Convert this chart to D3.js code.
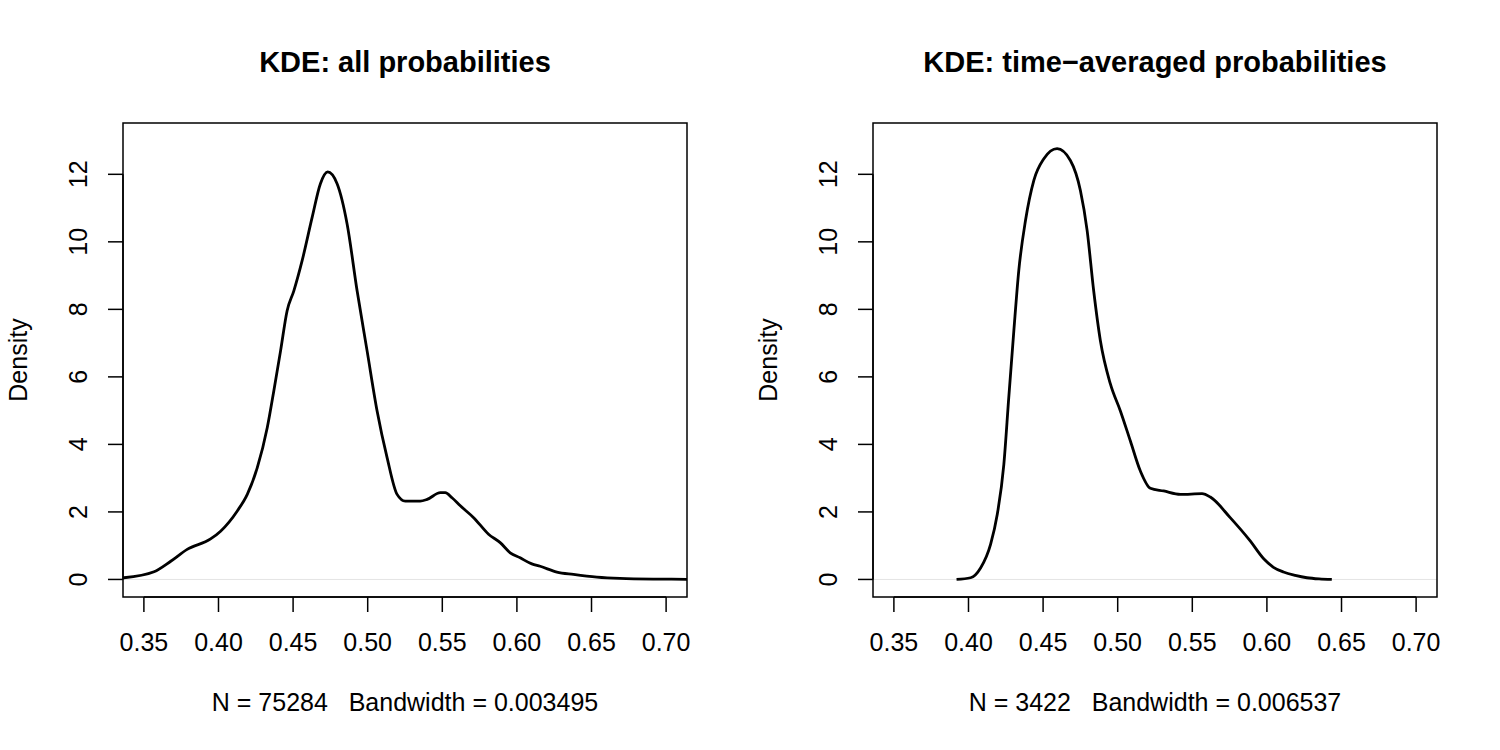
<!DOCTYPE html>
<html>
<head>
<meta charset="utf-8">
<script src="https://cdn.jsdelivr.net/npm/d3@7"></script>
<style>
  body { margin: 0; background: #fff; }
  svg { display: block; font-family: "Liberation Sans", Arial, Helvetica, sans-serif; }
  .frame { fill: none; stroke: #000; stroke-width: 1.5; }
  .tick-line { stroke: #000; stroke-width: 1.5; }
  .tick-label { font-size: 25px; fill: #000; }
  .axis-title { font-size: 25px; fill: #000; white-space: pre; }
  .main-title { font-size: 29px; font-weight: bold; fill: #000; }
  .zero-line { stroke: #e4e4e4; stroke-width: 1; }
  .density-line { fill: none; stroke: #000; stroke-width: 2.8; stroke-linejoin: round; }
</style>
</head>
<body>
<div id="wrapper"></div>
<script>
// left panel: all probabilities
const allProbX = [0.330, 0.3365, 0.3568, 0.368, 0.379, 0.3947, 0.4014, 0.4126, 0.4193, 0.426,
  0.4327, 0.4371, 0.4416, 0.446, 0.4505, 0.4561, 0.4628, 0.4683, 0.4732, 0.4795,
  0.4862, 0.4929, 0.4996, 0.5063, 0.513, 0.5197, 0.5252, 0.5352, 0.5398, 0.5487,
  0.552, 0.5565, 0.5621, 0.571, 0.581, 0.5888, 0.5955, 0.6022, 0.61, 0.6156,
  0.6268, 0.6379, 0.6536, 0.6691, 0.6914, 0.7139, 0.72];
const allProbDensity = [0.03, 0.05, 0.23, 0.54, 0.89, 1.2, 1.43, 2.03, 2.52, 3.31,
  4.5, 5.59, 6.77, 7.96, 8.55, 9.45, 10.73, 11.72, 12.07, 11.72,
  10.53, 8.55, 6.77, 4.99, 3.61, 2.52, 2.32, 2.32, 2.37, 2.57,
  2.57, 2.42, 2.18, 1.83, 1.34, 1.09, 0.79, 0.64, 0.46, 0.39,
  0.22, 0.15, 0.07, 0.03, 0.01, 0.005, 0.004];

// right panel: time-averaged probabilities
const avgProbX = [0.392, 0.4014, 0.4081, 0.4148, 0.4193, 0.4237, 0.427, 0.4304, 0.4337, 0.4382,
  0.4438, 0.4505, 0.4594, 0.4683, 0.475, 0.4795, 0.4839, 0.4884, 0.4951, 0.5018,
  0.5085, 0.5152, 0.5219, 0.5308, 0.542, 0.5565, 0.5621, 0.5754, 0.5888, 0.5977,
  0.6044, 0.6111, 0.619, 0.6268, 0.635, 0.6435];
const avgProbDensity = [0.0, 0.05, 0.34, 1.04, 1.93, 3.41, 5.39, 7.37, 9.15, 10.63,
  11.82, 12.46, 12.76, 12.41, 11.52, 10.34, 8.55, 7.07, 5.79, 4.99,
  4.1, 3.21, 2.7, 2.62, 2.52, 2.54, 2.44, 1.83, 1.14, 0.62,
  0.36, 0.22, 0.12, 0.05, 0.015, 0.0];

const xTicks = [0.35, 0.40, 0.45, 0.50, 0.55, 0.60, 0.65, 0.70];
const yTicks = [0, 2, 4, 6, 8, 10, 12];
const xLimits = [0.35, 0.70];
const yLimits = [0, 13];
const panelTitles = ["KDE: all probabilities", "KDE: time\u2212averaged probabilities"];
const panelXLabels = ["N = 75284   Bandwidth = 0.003495", "N = 3422   Bandwidth = 0.006537"];

const panels = [
  { x: allProbX, y: allProbDensity },
  { x: avgProbX, y: avgProbDensity },
];

// dimensions (R style margins, 1 line = 30px)
const lineH = 30;
const dimensions = {
  width: 1500,
  height: 750,
  panelWidth: 750,
  margin: { top: 4.1 * lineH, right: 2.1 * lineH, bottom: 5.1 * lineH, left: 4.1 * lineH },
};
dimensions.boundedWidth = dimensions.panelWidth - dimensions.margin.left - dimensions.margin.right;
dimensions.boundedHeight = dimensions.height - dimensions.margin.top - dimensions.margin.bottom;

const pad = (lim) => {
  const d = (lim[1] - lim[0]) * 0.04;
  return [lim[0] - d, lim[1] + d];
};

const xScale = d3.scaleLinear().domain(pad(xLimits)).range([0, dimensions.boundedWidth]);
const yScale = d3.scaleLinear().domain(pad(yLimits)).range([dimensions.boundedHeight, 0]);

const svg = d3.select("#wrapper").append("svg")
  .attr("width", dimensions.width)
  .attr("height", dimensions.height);

svg.append("rect").attr("width", dimensions.width).attr("height", dimensions.height).attr("fill", "#fff");

const defs = svg.append("defs");
defs.append("clipPath").attr("id", "plot-clip")
  .append("rect")
  .attr("width", dimensions.boundedWidth)
  .attr("height", dimensions.boundedHeight);

const lineGenerator = d3.line()
  .x((d) => xScale(d[0]))
  .y((d) => yScale(d[1]))
  .curve(d3.curveMonotoneX);

panels.forEach((panel, i) => {
  const bounds = svg.append("g")
    .attr("transform", `translate(${i * dimensions.panelWidth + dimensions.margin.left}, ${dimensions.margin.top})`);

  const plotArea = bounds.append("g").attr("clip-path", "url(#plot-clip)");

  plotArea.append("line")
    .attr("class", "zero-line")
    .attr("x1", 0).attr("x2", dimensions.boundedWidth)
    .attr("y1", yScale(0)).attr("y2", yScale(0));

  plotArea.append("path")
    .attr("class", "density-line")
    .attr("d", lineGenerator(d3.zip(panel.x, panel.y)));

  bounds.append("rect")
    .attr("class", "frame")
    .attr("width", dimensions.boundedWidth)
    .attr("height", dimensions.boundedHeight);

  // x axis
  const xAxis = bounds.append("g").attr("transform", `translate(0, ${dimensions.boundedHeight})`);
  xAxis.append("line").attr("class", "tick-line")
    .attr("x1", xScale(xTicks[0])).attr("x2", xScale(xTicks[xTicks.length - 1]));
  xTicks.forEach((t) => {
    xAxis.append("line").attr("class", "tick-line")
      .attr("x1", xScale(t)).attr("x2", xScale(t))
      .attr("y1", 0).attr("y2", 0.5 * lineH);
    xAxis.append("text").attr("class", "tick-label")
      .attr("x", xScale(t)).attr("y", 1.8 * lineH)
      .attr("text-anchor", "middle")
      .text(d3.format(".2f")(t));
  });

  // y axis
  const yAxis = bounds.append("g");
  yAxis.append("line").attr("class", "tick-line")
    .attr("y1", yScale(yTicks[0])).attr("y2", yScale(yTicks[yTicks.length - 1]));
  yTicks.forEach((t) => {
    yAxis.append("line").attr("class", "tick-line")
      .attr("x1", 0).attr("x2", -0.5 * lineH)
      .attr("y1", yScale(t)).attr("y2", yScale(t));
    yAxis.append("text").attr("class", "tick-label")
      .attr("transform", `translate(${-1.2 * lineH}, ${yScale(t)}) rotate(-90)`)
      .attr("text-anchor", "middle")
      .text(t);
  });

  bounds.append("text").attr("class", "axis-title")
    .attr("transform", `translate(${-3.2 * lineH}, ${dimensions.boundedHeight / 2}) rotate(-90)`)
    .attr("text-anchor", "middle")
    .text("Density");

  bounds.append("text").attr("class", "axis-title")
    .attr("x", dimensions.boundedWidth / 2)
    .attr("y", dimensions.boundedHeight + 3.8 * lineH)
    .attr("text-anchor", "middle")
    .text(panelXLabels[i]);

  bounds.append("text").attr("class", "main-title")
    .attr("x", dimensions.boundedWidth / 2)
    .attr("y", -1.7 * lineH)
    .attr("text-anchor", "middle")
    .text(panelTitles[i]);
});
</script>
</body>
</html>
